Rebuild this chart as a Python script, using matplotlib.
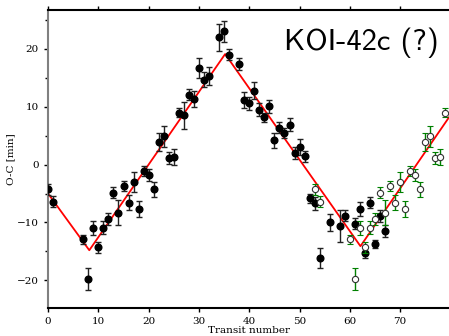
import numpy as np
import matplotlib.pyplot as plt
from matplotlib.ticker import MultipleLocator

# filled points (measured transits)
n_fill = [0, 1, 7, 8, 9, 10, 11, 12, 13, 14, 15, 16, 17, 18, 19, 20, 21,
          22, 23, 24, 25, 26, 27, 28, 29, 30, 31, 32, 34, 35, 36, 38, 39,
          40, 41, 42, 43, 44, 45, 46, 47, 48, 49, 50, 51, 52, 53, 54, 56,
          58, 59, 61, 62, 63, 64, 65, 66, 67]
oc_fill = [-4.3, -6.4, -12.9, -19.7, -10.9, -14.3, -10.9, -9.4, -4.9, -8.3,
           -3.7, -6.6, -3.0, -7.7, -1.1, -1.8, -4.3,
           3.9, 4.9, 1.1, 1.3, 9.0, 8.5, 12.1, 11.3, 16.7, 14.7, 15.3,
           22.0, 23.0, 19.0, 17.4, 11.2, 10.6, 12.8, 9.5, 8.2, 10.1,
           4.2, 6.4, 5.5, 6.9, 2.0, 3.0, 1.4, -5.8, -6.7, -16.1, -10.0,
           -10.6, -8.8, -10.2, -7.6, -15.2, -6.6, -13.7, -8.9, -11.5]
err_fill = [1.0, 1.0, 0.8, 1.9, 1.2, 1.0, 1.1, 1.1, 0.95, 2.1, 0.9, 1.3,
            1.7, 1.4, 0.9, 1.1, 1.3,
            1.5, 1.8, 1.0, 1.35, 0.8, 2.3, 1.0, 1.4, 1.8, 1.3, 1.6,
            2.3, 1.8, 0.9, 1.1, 1.4, 1.1, 1.4, 1.1, 0.8, 1.1,
            1.3, 1.0, 0.9, 1.1, 1.0, 1.4, 0.9, 0.8, 1.1, 1.7, 1.5,
            2.7, 0.95, 1.0, 1.2, 1.0, 0.95, 0.7, 1.0, 1.0]

# open points (predicted / folded transits)
n_open = [53, 54, 60, 61, 62, 63, 64, 65, 66, 67, 68, 69, 70, 71, 72, 73,
          74, 75, 76, 77, 78, 79]
oc_open = [-4.3, -6.4, -12.9, -19.7, -10.9, -14.3, -10.9, -9.4, -4.9, -8.3,
           -3.7, -6.6, -3.0, -7.7, -1.1, -1.8, -4.3, 3.9, 4.9, 1.1, 1.3, 9.0]
err_open = [1.0, 1.0, 0.8, 1.9, 1.2, 1.0, 1.1, 1.1, 0.95, 2.1, 0.9, 1.3,
            1.7, 1.4, 0.9, 1.1, 1.3, 1.5, 1.8, 1.0, 1.35, 0.8]

# sawtooth model
n_model = [0, 8.2, 35.2, 62.1, 80.2]
oc_model = [-5.0, -14.8, 19.1, -14.1, 8.8]

plt.rcParams['font.family'] = 'DejaVu Serif'

fig = plt.figure(figsize=(4.49, 3.36), dpi=100)
ax = fig.add_axes([0.107, 0.083, 0.893, 0.887])

ax.plot(n_model, oc_model, color='red', lw=1.3, zorder=2)
ax.errorbar(n_fill, oc_fill, yerr=err_fill, fmt='o', color='black',
            ecolor='#222222', elinewidth=1.0, capsize=2, capthick=1.0,
            markersize=4.8, zorder=3)
ax.errorbar(n_open, oc_open, yerr=err_open, fmt='o', mfc='white',
            mec='#333333', mew=0.8, ecolor='green', elinewidth=1.0,
            capsize=2, capthick=1.0, markersize=4.5, zorder=4)

ax.set_xlim(0, 79.7)
ax.set_ylim(-24.8, 26.7)
ax.xaxis.set_major_locator(MultipleLocator(10))
ax.yaxis.set_major_locator(MultipleLocator(10))
ax.yaxis.set_minor_locator(MultipleLocator(5))
ax.tick_params(axis='both', which='both', direction='out', labelsize=7.5,
               top=True, right=False, length=3, width=1)
ax.tick_params(which='minor', length=2)
ax.xaxis.set_minor_locator(MultipleLocator(100))

for s in ['top', 'bottom']:
    ax.spines[s].set_linewidth(1.5)
ax.spines['left'].set_linewidth(1.5)
ax.spines['left'].set_color('#808080')
ax.spines['right'].set_visible(False)

ax.set_xlabel('Transit number', fontsize=7.5, labelpad=0)
ax.set_ylabel('O-C [min]', fontsize=7.5, labelpad=1)

ax.text(0.975, 0.89, 'KOI-42c (?)', transform=ax.transAxes, ha='right',
        va='center', fontsize=22, family=['cmss10', 'DejaVu Sans'])

fig.savefig('out.png', dpi=100)
